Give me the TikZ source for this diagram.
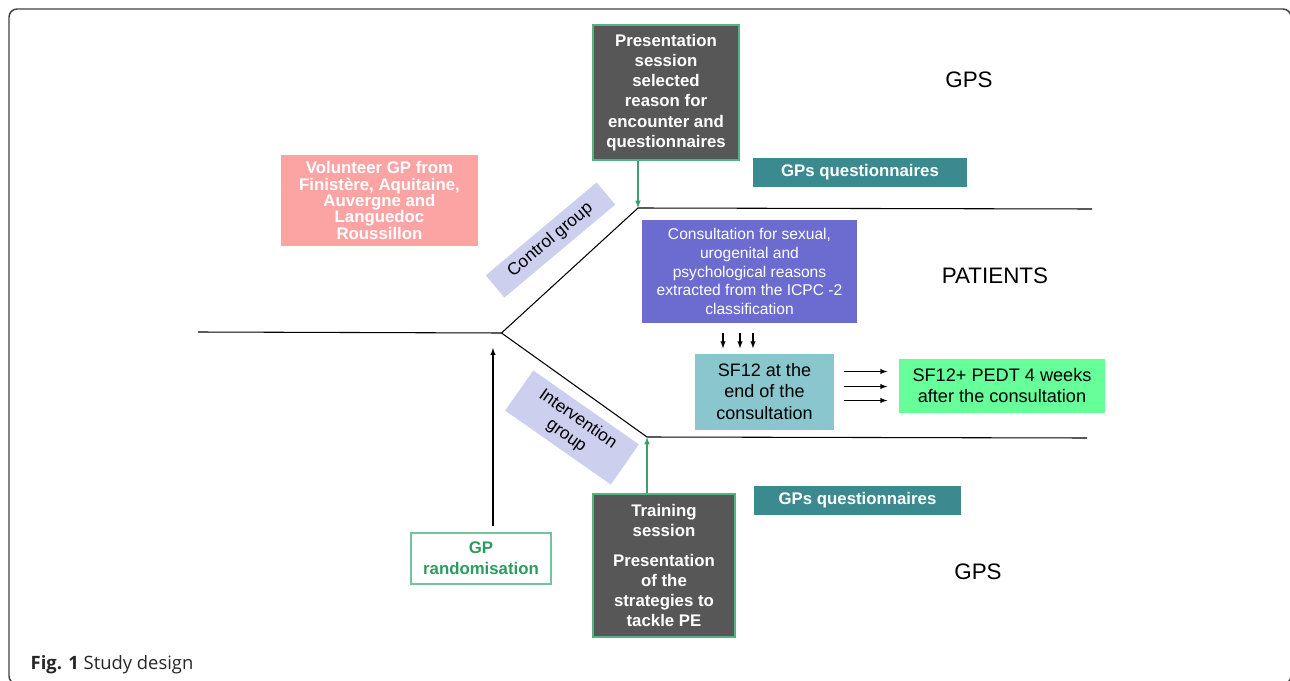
\documentclass[tikz,border=0pt]{standalone}
\usepackage{fontspec}
\setmainfont{Liberation Sans}
\newfontfamily\capfont{Open Sans}
\usetikzlibrary{calc, arrows}
\definecolor{boxgray}{HTML}{575757}
\definecolor{edgegreen}{HTML}{52B483}
\definecolor{arrowgreen}{HTML}{3F9E6E}
\definecolor{randgreen}{HTML}{2E9B5E}
\definecolor{pinkbox}{HTML}{FCA4A4}
\definecolor{lavender}{HTML}{CDCFEE}
\definecolor{tealbox}{HTML}{3A8A8F}
\definecolor{purplebox}{HTML}{6B6BD0}
\definecolor{sfbox}{HTML}{8AC6CD}
\definecolor{pedtbox}{HTML}{66FF99}

\begin{document}
\begin{tikzpicture}[x=0.75pt, y=-0.75pt, >=latex,
    gpbox/.style={draw=edgegreen, fill=boxgray, text=white, line width=0.9pt, inner sep=0pt, align=center,
        font=\bfseries\fontsize{12.6}{15.1}\selectfont},
    qbox/.style={fill=tealbox, text=white, inner sep=0pt, font=\bfseries\fontsize{12.6}{15}\selectfont,
        minimum height=21.75pt},
    grpbox/.style={fill=lavender, inner sep=0pt, align=center, font=\fontsize{13}{15}\selectfont},
    side/.style={font=\fontsize{16.8}{20}\selectfont},
    branch/.style={line width=0.8pt}]
    \useasboundingbox (0,0) rectangle (1290,681);
    \draw[line width=1.1pt, draw=black!75, rounded corners=6pt] (9,9) rectangle (1291,684);

    % junctions of the two arms
    \coordinate (l) at (198,332);
    \coordinate (m) at (501.5,333);
    \coordinate (t) at (638,208);
    \coordinate (te) at (1092,209);
    \coordinate (b) at (647,437);
    \coordinate (be) at (1087,438);
    \coordinate (r) at (493,348);

    \node[gpbox, minimum width=109.5pt, minimum height=101.25pt] (pres) at (666,92.5)
        {Presentation\\session\\selected\\reason for\\encounter and\\questionnaires};
    \node[gpbox, minimum width=106.5pt, minimum height=107.25pt] (train) at (664,565.5)
        {Training\\session\\[7.5pt]Presentation\\of the\\strategies to\\tackle PE};
    \node[draw=edgegreen!80, line width=0.8pt, text=randgreen, inner sep=0pt, align=center,
        font=\bfseries\fontsize{12.6}{15.75}\selectfont, minimum width=105pt, minimum height=38.25pt]
        (rand) at (481,558.5) {GP\\randomisation};
    \node[fill=pinkbox, text=white, inner sep=0pt, align=center, font=\bfseries\fontsize{12.6}{12.2}\selectfont,
        minimum width=147.75pt, minimum height=68.25pt] (vol) at (379.5,200.5)
        {Volunteer GP from\\Finistère, Aquitaine,\\Auvergne and\\Languedoc\\Roussillon};

    \node[qbox, minimum width=160.5pt] (q1) at (860,172.5) {GPs questionnaires};
    \node[qbox, minimum width=155.25pt] (q2) at (857.5,500.5) {GPs questionnaires};

    \node[grpbox, rotate=40, minimum width=108.5pt, minimum height=21.75pt] (cg) at (550.5,240) {Control group};
    \node[grpbox, rotate=-35, minimum width=96.75pt, minimum height=36.75pt] (ig) at (572,427.5) {Intervention\\group};

    \node[fill=purplebox, text=white, inner sep=0pt, align=center, font=\fontsize{11.7}{14.1}\selectfont,
        minimum width=161.25pt, minimum height=77.25pt] (cons) at (749.5,271.5)
        {Consultation for sexual,\\urogenital and\\psychological reasons\\extracted from the ICPC -2\\classification};
    \node[fill=sfbox, inner sep=0pt, align=center, font=\fontsize{13.5}{16.1}\selectfont,
        minimum width=104.25pt, minimum height=57pt] (sf) at (764.5,391.5)
        {SF12 at the\\end of the\\consultation};
    \node[fill=pedtbox, inner sep=0pt, align=center, font=\fontsize{13.6}{15.75}\selectfont,
        minimum width=154.5pt, minimum height=40.5pt] (pedt) at (1002,386)
        {SF12+ PEDT 4 weeks\\after the consultation};

    \node[side] (gps1) at (969,80) {GPS};
    \node[side] (pat) at (995,276) {PATIENTS};
    \node[side] (gps2) at (978,572) {GPS};

    \draw[branch] (l) -- (m) -- (t) -- (te);
    \draw[branch] (m) -- (b) -- (be);

    \draw[->, arrowgreen, line width=0.9pt] (t |- pres.south) -- (t);
    \draw[->, arrowgreen, line width=0.9pt] (b |- train.north) -- (b);
    \draw[->, line width=0.8pt, shorten <=4.5pt] (r |- rand.north) -- (r);

    \foreach \dx in {-26.5,-9.5,3.5}
        \draw[->, line width=0.8pt] ($(cons.south)+(\dx,10)$) -- ++(0,15);
    \foreach \dy in {-14.5,0.5,14.5}
        \draw[->, line width=0.8pt] ($(sf.east |- pedt.west)+(10,\dy)$) -- ++(43,0);

    \node[anchor=base west, text=black!85, font=\capfont\fontsize{13.8}{16}\selectfont] (cap) at (26,669.5)
        {\textbf{Fig. 1} Study design};
\end{tikzpicture}
\end{document}
